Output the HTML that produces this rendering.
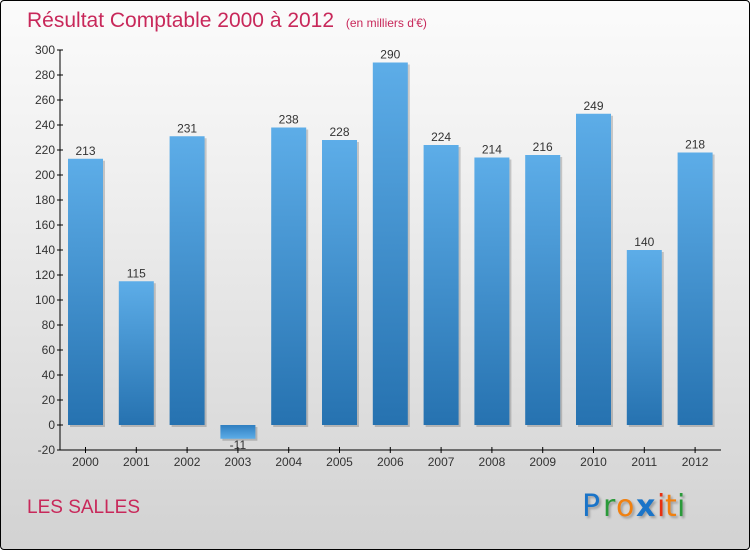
<!DOCTYPE html>
<html><head><meta charset="utf-8"><style>
html,body{margin:0;padding:0}
body{width:750px;height:550px;overflow:hidden;font-family:"Liberation Sans",sans-serif}
#frame{position:absolute;left:0;top:0;width:748px;height:548px;border:1px solid #000;border-radius:4px;background:linear-gradient(#fbfbfb,#f0f0f0 30%,#d2d2d2)}
</style></head><body>
<div id="frame">
<svg width="750" height="550" style="position:absolute;left:-1px;top:-1px">
<defs>
<linearGradient id="bg" x1="0" y1="0" x2="0" y2="1"><stop offset="0" stop-color="#5dade8"/><stop offset="1" stop-color="#2672b0"/></linearGradient>
<linearGradient id="bgn" x1="0" y1="0" x2="0" y2="1"><stop offset="0" stop-color="#2f7ec0"/><stop offset="1" stop-color="#5dade8"/></linearGradient>
</defs>
<text x="27" y="27" font-size="21" fill="#c8285a">Résultat Comptable 2000 à 2012 <tspan font-size="12" dx="6">(en milliers d'€)</tspan></text>
<text x="27" y="513" font-size="19" fill="#c8285a">LES SALLES</text>
<g id="plot"></g>
<g font-size="30" font-family="'DejaVu Sans',sans-serif" style="filter:drop-shadow(2px 2px 1px rgba(0,0,0,0.25))">
<text x="582" y="516" fill="#1a74c8">P</text><text x="603" y="516" fill="#2a9a3a">r</text><text x="616" y="516" fill="#f08010">o</text><text x="636" y="516" fill="#1a74c8" font-weight="bold">x</text><text x="657" y="516" fill="#e83010">i</text><text x="665" y="516" fill="#f08010">t</text><text x="677" y="516" fill="#2a9a3a">i</text>
</g>
</svg></div>
<script>
const years=["2000","2001","2002","2003","2004","2005","2006","2007","2008","2009","2010","2011","2012"];
const values=[213,115,231,-11,238,228,290,224,214,216,249,140,218];
const yTicks=[-20,0,20,40,60,80,100,120,140,160,180,200,220,240,260,280,300];
const NS="http://www.w3.org/2000/svg";
const g=document.getElementById('plot');
const y=v=>425-v*1.25;
const x=i=>85.5+i*50.8;
function mk(t,a){const e=document.createElementNS(NS,t);for(const k in a)e.setAttribute(k,a[k]);g.appendChild(e);return e;}
let ax=mk('line',{x1:60,y1:50,x2:60,y2:450,stroke:'#000'});


let bx=mk('line',{x1:60,y1:450,x2:721,y2:450,stroke:'#000'});


yTicks.forEach(v=>{
 mk('line',{x1:57,y1:y(v),x2:63,y2:y(v),stroke:'#000'});
 const t=mk('text',{x:55,y:y(v)+4,'text-anchor':'end','font-size':12,fill:'#333'});
 t.textContent=(v<0?'-'+Math.abs(v):v);
 
 
});
years.forEach((yr,i)=>{
 const v=values[i],cx=x(i);
 mk('line',{x1:cx,y1:447,x2:cx,y2:453,stroke:'#000'});
 const t=mk('text',{x:cx,y:466,'text-anchor':'middle','font-size':12,fill:'#333'});
 t.textContent=yr;
 
 
 const top=Math.min(y(v),y(0)),h=Math.abs(y(v)-y(0));
 mk('rect',{x:cx-17.5+2,y:top+2,width:35,height:h,fill:'rgba(0,0,0,0.18)'});
 const r=mk('rect',{x:cx-17.5,y:top,width:35,height:h,fill:v<0?'url(#bgn)':'url(#bg)'});
 
 
 const l=mk('text',{x:cx,y:v<0?y(v)+10:y(v)-4,'text-anchor':'middle','font-size':12,fill:'#333'});
 l.textContent=v;
 
 
});
</script>
</body></html>
